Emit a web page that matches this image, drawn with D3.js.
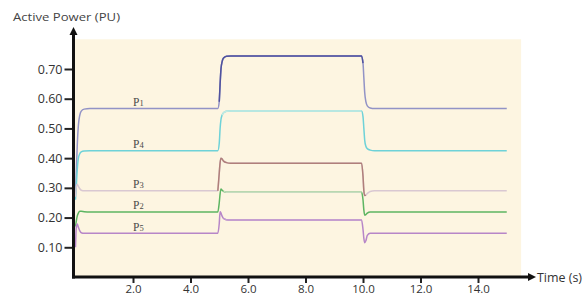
<!DOCTYPE html>
<html><head><meta charset="utf-8">
<script src="https://cdn.jsdelivr.net/npm/d3@7"></script>
<style>
html,body{margin:0;padding:0;background:#fff;}
svg{display:block;}
</style></head>
<body>
<svg id="c" width="587" height="296"></svg>
<script>
// ---- data ----
const time = [0, 0.03, 0.06, 0.1, 0.15, 0.2, 0.3, 0.5, 4.95, 5.0, 5.03, 5.06, 5.1, 5.15, 5.25, 5.4, 9.95, 10.0, 10.03, 10.06, 10.1, 10.15, 10.25, 10.4, 15];
const P1 = [0.28, 0.36, 0.44, 0.51, 0.545, 0.558, 0.565, 0.567, 0.567, 0.59, 0.65, 0.70, 0.725, 0.737, 0.743, 0.744, 0.744, 0.72, 0.67, 0.62, 0.59, 0.576, 0.569, 0.567, 0.567];
const P4 = [0.26, 0.31, 0.36, 0.40, 0.415, 0.421, 0.424, 0.425, 0.425, 0.45, 0.50, 0.53, 0.545, 0.553, 0.558, 0.559, 0.559, 0.54, 0.50, 0.46, 0.44, 0.432, 0.427, 0.425, 0.425];
const P3 = [0.27, 0.305, 0.312, 0.305, 0.297, 0.292, 0.29, 0.29, 0.29, 0.35, 0.385, 0.40, 0.397, 0.39, 0.385, 0.383, 0.383, 0.34, 0.29, 0.274, 0.276, 0.281, 0.288, 0.29, 0.29];
const P2 = [0.17, 0.19, 0.205, 0.215, 0.221, 0.221, 0.22, 0.219, 0.219, 0.25, 0.28, 0.296, 0.292, 0.288, 0.285, 0.285, 0.285, 0.26, 0.225, 0.208, 0.21, 0.215, 0.219, 0.219, 0.219];
const P5 = [0.10, 0.17, 0.178, 0.167, 0.155, 0.149, 0.147, 0.147, 0.147, 0.18, 0.22, 0.215, 0.205, 0.197, 0.193, 0.192, 0.192, 0.16, 0.13, 0.115, 0.122, 0.14, 0.147, 0.147, 0.147];
const seriesNames = ["P1", "P4", "P3", "P2", "P5"];
const yTicks = [0.1, 0.2, 0.3, 0.4, 0.5, 0.6, 0.7];
const xTicks = [2, 4, 6, 8, 10, 12, 14];
const yTitle = "Active Power (PU)";
const xTitle = "Time (s)";

// ---- drawing ----
const svg = d3.select("#c");
const x = d3.scaleLinear().domain([0, 15]).range([75.5, 506.75]);
const y = d3.scaleLinear().domain([0, 0.7]).range([277, 69]);

const values = {P1, P4, P3, P2, P5};
const style = {
  P1: {base: "#9293c6", hi: "#4f529e", range: [4.97, 10.0]},
  P4: {base: "#6ed2d8", hi: "#c3ebe3", range: [5.08, 9.97]},
  P3: {base: "#d9c8d2", hi: "#b07f7a", range: [4.95, 10.1]},
  P2: {base: "#5db562", hi: "#c6dcbf", range: [5.12, 9.96]},
  P5: {base: "#b786c8", hi: "#c39dd0", range: [5.12, 9.96]}
};

// background
svg.append("rect")
  .attr("x", x(0) - 0.5).attr("y", y(0.8))
  .attr("width", x(15.5) - x(0) + 0.5).attr("height", y(0) - y(0.8))
  .attr("fill", "#fdf5e1");

const line = d3.line().x(d => x(d[0])).y(d => y(d[1])).curve(d3.curveMonotoneX);

seriesNames.forEach(name => {
  const pts = time.map((t, i) => [t, values[name][i]]);
  const st = style[name];
  svg.append("path").attr("d", line(pts)).attr("fill", "none")
    .attr("stroke", st.base).attr("stroke-width", 1.5);
  const sub = pts.filter(p => p[0] >= st.range[0] && p[0] <= st.range[1]);
  svg.append("path").attr("d", line(sub)).attr("fill", "none")
    .attr("stroke", st.hi).attr("stroke-width", 1.5);
});

// series labels
const labelT = 2.0;
seriesNames.forEach(name => {
  const v = values[name][7];
  const t = svg.append("text")
    .attr("x", x(labelT)).attr("y", y(v) - 2.5)
    .attr("font-family", "'Liberation Serif', 'DejaVu Serif', serif")
    .attr("font-size", 11.5).attr("fill", "#4a4a4a");
  t.append("tspan").text(name[0]);
  t.append("tspan").attr("font-size", 8.5).text(name.slice(1));
});

// axes
const yAxis = svg.append("g").attr("transform", `translate(${x(0) - 2},0)`)
  .call(d3.axisLeft(y).tickValues(yTicks).tickFormat(d3.format(".2f")).tickSize(9).tickPadding(2));
const xAxis = svg.append("g").attr("transform", `translate(0,${y(0)})`)
  .call(d3.axisBottom(x).tickValues(xTicks).tickFormat(d3.format(".1f")).tickSize(6).tickPadding(0));
[yAxis, xAxis].forEach(g => {
  g.select(".domain").remove();
  g.selectAll(".tick line").attr("stroke", "#222").attr("stroke-width", 2);
  g.selectAll(".tick text").attr("font-family", "'Open Sans', sans-serif")
    .attr("font-size", 12.5).attr("fill", "#333");
});
xAxis.selectAll(".tick text").attr("font-size", 11.5).attr("dy", "0.83em");

// thick axis lines with arrows
const ax0 = x(0) - 2, ay0 = y(0);
svg.append("line").attr("x1", ax0).attr("y1", ay0 + 1.5).attr("x2", ax0).attr("y2", 34)
  .attr("stroke", "#111").attr("stroke-width", 3);
svg.append("path").attr("d", `M${ax0},27 L${ax0 - 4},35 L${ax0 + 4},35 Z`).attr("fill", "#111");
svg.append("line").attr("x1", ax0 - 1.5).attr("y1", ay0).attr("x2", 529).attr("y2", ay0)
  .attr("stroke", "#111").attr("stroke-width", 3);
svg.append("path").attr("d", `M536,${ay0} L528,${ay0 - 4} L528,${ay0 + 4} Z`).attr("fill", "#111");

// titles
svg.append("text").attr("x", 13).attr("y", 21).text(yTitle)
  .attr("font-family", "'Open Sans', sans-serif").attr("font-size", 11.5).attr("fill", "#444")
  .attr("textLength", 107).attr("lengthAdjust", "spacingAndGlyphs");
svg.append("text").attr("x", 537).attr("y", 281.5).text(xTitle)
  .attr("font-family", "'Open Sans', sans-serif").attr("font-size", 12).attr("fill", "#333")
  .attr("textLength", 45).attr("lengthAdjust", "spacingAndGlyphs");
</script>
</body></html>
